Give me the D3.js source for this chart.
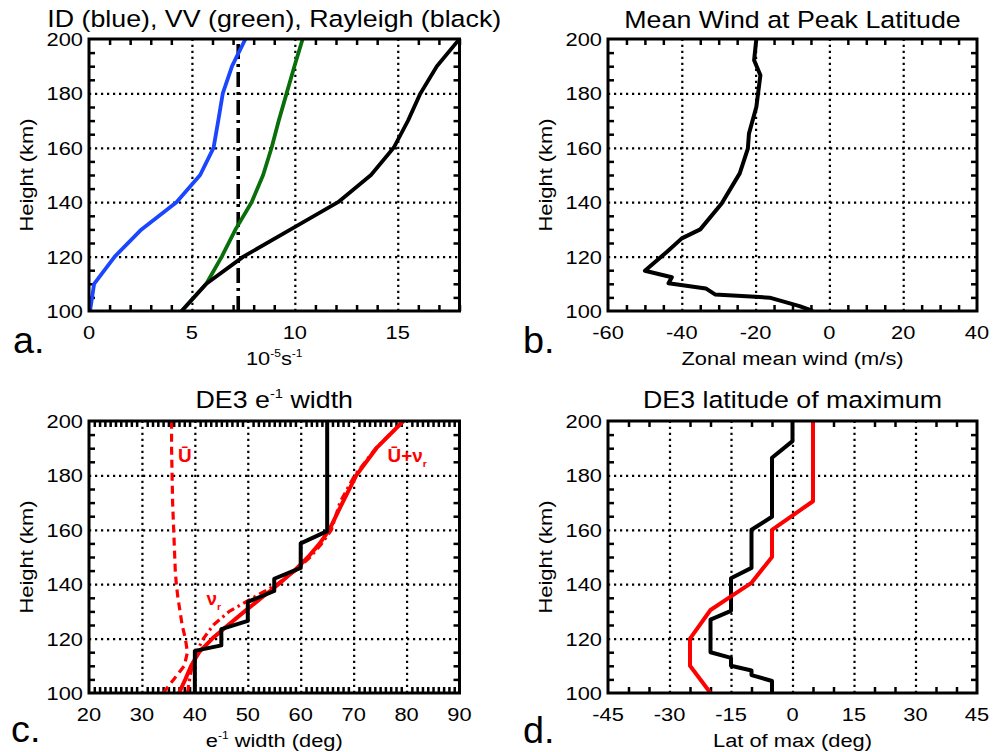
<!DOCTYPE html>
<html>
<head>
<meta charset="utf-8">
<script src="https://cdn.jsdelivr.net/npm/d3@7"></script>
<style>
  body { margin: 0; background: #fff; }
  svg { display: block; }
</style>
</head>
<body>
<svg id="fig" width="1005" height="752"></svg>
<script>
// ---- Panel (a): damping rates (10^-5 s^-1) versus height ----
const heightA      = [100, 110, 120, 130, 140, 150, 160, 170, 180, 190, 200];
const idRate       = [0.05, 0.25, 1.25, 2.55, 4.25, 5.4, 6.05, 6.28, 6.5, 6.95, 7.6];
const vvRate       = [4.5, 5.7, 6.45, 7.12, 7.9, 8.46, 8.87, 9.22, 9.6, 9.98, 10.38];
const rayleighRate = [4.5, 5.7, 7.5, 9.8, 12.1, 13.7, 14.8, 15.5, 16.1, 16.9, 18.0];
const referenceRate = 7.25;
const xTicksA = [0, 5, 10, 15];

// ---- Panel (b): zonal mean wind at the peak latitude ----
const heightB = [100, 101.8, 104.9, 106.1, 108.3, 110.2, 112.4, 114.8, 121.8, 126.7, 130,
                 139.5, 150.6, 159.7, 165.2, 175, 186.7, 192.2, 200];
const windB   = [-4.5, -8.1, -16.2, -31, -33.5, -43.6, -42.7, -50, -44, -40, -35,
                 -29.2, -24.3, -22.1, -21.8, -19.8, -18.7, -20.4, -19.8];
const xTicksB = [-60, -40, -20, 0, 20, 40];

// ---- Panel (c): DE3 e^-1 width ----
const heightC    = [100, 105, 110, 115, 120, 125, 130, 135, 140, 145, 150, 155, 160, 170, 180, 190, 200];
const uBarWidth  = [34.0, 36.0, 38.0, 38.6, 38.2, 37.6, 37.2, 36.8, 36.5, 36.3, 36.2, 36.1, 36.0, 35.8, 35.7, 35.6, 35.6];
const nuRWidth   = [38.6, 39.0, 39.5, 40.3, 41.6, 43.5, 46.5, 51.0, 55.5, 59.0, 61.8, 64.0, 65.8, 67.4, 70.2, 74.2, 79.4];
const totalWidth = [37.0, 38.2, 39.3, 40.8, 43.3, 46.3, 49.4, 52.6, 55.8, 58.8, 61.4, 63.6, 65.4, 67.9, 70.5, 74.3, 79.4];
const heightObsC = [100, 115.5, 117.5, 123.5, 126.5, 133.5, 137.5, 142, 146, 155, 159.5, 200];
const obsWidthC  = [40, 40, 45, 45, 50, 50, 55, 55, 60, 60, 65, 65];
const xTicksC = [20, 30, 40, 50, 60, 70, 80, 90];

// ---- Panel (d): DE3 latitude of maximum ----
const heightObsD = [100, 104.4, 106.6, 108.3, 110, 112.9, 115, 127, 130.2, 142.2, 146, 160, 164.8, 186.5, 192.6, 200];
const obsLatD    = [-5, -5, -10, -10, -15, -15, -20, -20, -15, -15, -10, -10, -5, -5, 0, 0];
const heightModD = [100, 110, 120, 130.5, 135.5, 140.5, 150, 160, 170.5, 200];
const modLatD    = [-20, -25, -25, -20, -15, -10, -5, -5, 5, 5];
const xTicksD = [-45, -30, -15, 0, 15, 30, 45];

const yTicks = [100, 120, 140, 160, 180, 200];

// ---- drawing ----
const FONT = '"Liberation Sans", Arial, Helvetica, sans-serif';
const SX = 1.15;   // horizontal stretch of the lettering
const svg = d3.select('#fig');

function label(g, x, y, parts, o) {
  const size = o.size;
  const tr = `translate(${x},${y})` + (o.rotate ? ' rotate(-90)' : '') + ` scale(${o.sx || SX},1)`;
  const t = g.append('text')
    .attr('transform', tr)
    .attr('font-family', FONT)
    .attr('font-size', size)
    .attr('text-anchor', o.anchor || 'middle')
    .attr('fill', o.fill || '#000');
  if (o.weight) t.attr('font-weight', o.weight);
  let shift = 0;
  [].concat(parts).forEach(p => {
    const s = typeof p === 'string' ? { t: p } : p;
    const target = s.sup ? -0.42 * size : s.sub ? 0.28 * size : 0;
    const ts = t.append('tspan').text(s.t).attr('dy', target - shift);
    if (s.sup || s.sub) ts.attr('font-size', size * 0.55);
    shift = target;
  });
  return t;
}

function panel(cfg) {
  const g = svg.append('g');
  const x = d3.scaleLinear().domain(cfg.xDomain).range([cfg.left, cfg.right]);
  const y = d3.scaleLinear().domain([100, 200]).range([cfg.bottom, cfg.top]);
  const w = cfg.right - cfg.left, h = cfg.bottom - cfg.top;

  const clipId = 'clip-' + cfg.key;
  g.append('clipPath').attr('id', clipId).append('rect')
    .attr('x', cfg.left).attr('y', cfg.top).attr('width', w).attr('height', h);

  // minor ticks (inward, all four sides)
  const [d0, d1] = cfg.xDomain;
  const xMinor = d3.range(d0, d1 + 1e-9, cfg.xMinorStep).filter(v => !cfg.xTicks.includes(v));
  const yMinor = d3.range(100, 200 + 1e-9, 5).filter(v => !yTicks.includes(v));
  const tickStyle = sel => {
    sel.select('.domain').remove();
    sel.selectAll('line').attr('stroke', '#000').attr('stroke-width', 2.5);
  };
  g.append('g').attr('transform', `translate(0,${cfg.bottom})`)
    .call(d3.axisBottom(x).tickValues(xMinor).tickSize(-6).tickFormat('')).call(tickStyle);
  g.append('g').attr('transform', `translate(0,${cfg.top})`)
    .call(d3.axisTop(x).tickValues(xMinor).tickSize(-6).tickFormat('')).call(tickStyle);
  g.append('g').attr('transform', `translate(${cfg.left},0)`)
    .call(d3.axisLeft(y).tickValues(yMinor).tickSize(-6).tickFormat('')).call(tickStyle);
  g.append('g').attr('transform', `translate(${cfg.right},0)`)
    .call(d3.axisRight(y).tickValues(yMinor).tickSize(-6).tickFormat('')).call(tickStyle);

  // dotted grid at interior major ticks
  const gridStyle = sel => {
    sel.select('.domain').remove();
    sel.selectAll('line').attr('stroke', '#000').attr('stroke-width', 2.2)
      .attr('stroke-dasharray', '2.2,3.8');
  };
  const xGrid = cfg.xTicks.filter(v => v > d0 && v < d1);
  g.append('g').attr('transform', `translate(0,${cfg.bottom})`)
    .call(d3.axisBottom(x).tickValues(xGrid).tickSize(-h).tickFormat('')).call(gridStyle);
  g.append('g').attr('transform', `translate(${cfg.left},0)`)
    .call(d3.axisLeft(y).tickValues(yTicks.filter(v => v > 100 && v < 200)).tickSize(-w).tickFormat(''))
    .call(gridStyle);

  // data
  const plot = g.append('g').attr('clip-path', `url(#${clipId})`);
  cfg.series.forEach(s => {
    const pts = s.hs.map((hh, i) => [s.vs[i], hh]);
    plot.append('path')
      .attr('d', d3.line().x(d => x(d[0])).y(d => y(d[1]))(pts))
      .attr('fill', 'none')
      .attr('stroke', s.color)
      .attr('stroke-width', s.width || 3.8)
      .attr('stroke-linejoin', 'round')
      .attr('stroke-dasharray', s.dash || null);
  });

  // frame
  g.append('rect').attr('x', cfg.left).attr('y', cfg.top).attr('width', w).attr('height', h)
    .attr('fill', 'none').attr('stroke', '#000').attr('stroke-width', 3);

  // tick labels
  cfg.xTicks.forEach(v => label(g, x(v), cfg.bottom + 28, String(v), { size: 19 }));
  yTicks.forEach(v => label(g, cfg.left - 6, y(v) + 7, String(v), { size: 19, anchor: 'end' }));

  // titles
  label(g, (cfg.left + cfg.right) / 2, cfg.titleY, cfg.title, { size: 23.5, sx: 1.14 });
  label(g, (cfg.left + cfg.right) / 2, cfg.bottom + 54, cfg.xLabel, { size: 19 });
  label(g, cfg.left - 56, (cfg.top + cfg.bottom) / 2, 'Height (km)', { size: 19, rotate: true });
  label(g, cfg.letterX, cfg.letterY, cfg.key + '.', { size: 36, anchor: 'start', sx: 1.05 });

  return { g, x, y };
}

panel({
  key: 'a', left: 89, right: 459.5, top: 39, bottom: 311, xDomain: [0, 18],
  xTicks: xTicksA, xMinorStep: 1, titleY: 26.5, letterX: 13, letterY: 353,
  title: 'ID (blue), VV (green), Rayleigh (black)',
  xLabel: ['10', { t: '-5', sup: true }, 's', { t: '-1', sup: true }],
  series: [
    { hs: [100, 200], vs: [referenceRate, referenceRate], color: '#000', width: 3.6, dash: '15,5,3,5' },
    { hs: heightA, vs: idRate, color: '#1a46ff' },
    { hs: heightA, vs: vvRate, color: '#0a6e0a' },
    { hs: heightA, vs: rayleighRate, color: '#000' }
  ]
});

panel({
  key: 'b', left: 608, right: 977, top: 39, bottom: 311, xDomain: [-60, 40],
  xTicks: xTicksB, xMinorStep: 5, titleY: 28, letterX: 523, letterY: 353,
  title: 'Mean Wind at Peak Latitude',
  xLabel: 'Zonal mean wind (m/s)',
  series: [
    { hs: heightB, vs: windB, color: '#000', width: 4 }
  ]
});

const pc = panel({
  key: 'c', left: 89, right: 459.5, top: 421, bottom: 693, xDomain: [20, 90],
  xTicks: xTicksC, xMinorStep: 1, titleY: 408, letterX: 11, letterY: 742,
  title: ['DE3 e', { t: '-1', sup: true }, ' width'],
  xLabel: ['e', { t: '-1', sup: true }, ' width (deg)'],
  series: [
    { hs: heightC, vs: uBarWidth, color: '#ff0000', width: 3.2, dash: '8,5' },
    { hs: heightC, vs: nuRWidth, color: '#ff0000', width: 3.2, dash: '8,4,2.5,4' },
    { hs: heightC, vs: totalWidth, color: '#ff0000', width: 4 },
    { hs: heightObsC, vs: obsWidthC, color: '#000', width: 4 }
  ]
});
// curve annotations
label(pc.g, pc.x(36.8), pc.y(185), 'Ū', { size: 18, anchor: 'start', fill: '#ff0000', weight: 'bold', sx: 1.05 });
label(pc.g, pc.x(76.4), pc.y(185), ['Ū+ν', { t: 'r', sub: true }], { size: 18, anchor: 'start', fill: '#ff0000', weight: 'bold', sx: 1.05 });
label(pc.g, pc.x(42.2), pc.y(132.3), ['ν', { t: 'r', sub: true }], { size: 18, anchor: 'start', fill: '#ff0000', weight: 'bold', sx: 1.05 });

panel({
  key: 'd', left: 608, right: 977, top: 421, bottom: 693, xDomain: [-45, 45],
  xTicks: xTicksD, xMinorStep: 5, titleY: 408, letterX: 523, letterY: 743,
  title: 'DE3 latitude of maximum',
  xLabel: 'Lat of max (deg)',
  series: [
    { hs: heightObsD, vs: obsLatD, color: '#000', width: 4 },
    { hs: heightModD, vs: modLatD, color: '#ff0000', width: 4 }
  ]
});
</script>
</body>
</html>
